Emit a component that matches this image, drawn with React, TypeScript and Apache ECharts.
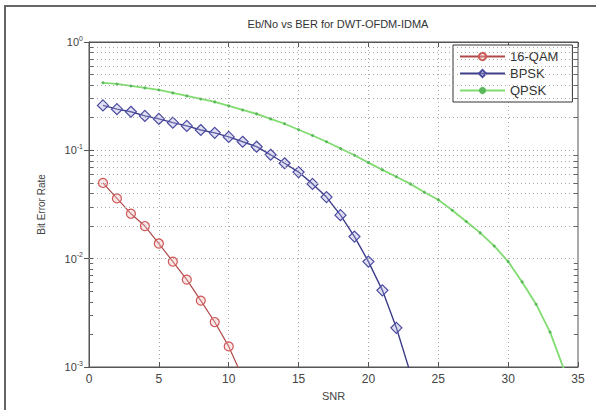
import React, { useEffect, useRef } from "react";
import * as echarts from "echarts";

const qam16X = [1, 2, 3, 4, 5, 6, 7, 8, 9, 10, 11];
const qam16Y = [0.05, 0.036, 0.026, 0.02, 0.0138, 0.0094, 0.0064, 0.0041, 0.0026, 0.00155, 0.0008];
const bpskX = [1, 2, 3, 4, 5, 6, 7, 8, 9, 10, 11, 12, 13, 14, 15, 16, 17, 18, 19, 20, 21, 22, 23];
const bpskY = [0.26, 0.24, 0.227, 0.208, 0.195, 0.18, 0.168, 0.154, 0.145, 0.133, 0.12, 0.108, 0.091, 0.076, 0.063, 0.049, 0.037, 0.0252, 0.016, 0.0094, 0.0051, 0.0023, 0.00088];
const qpskX = [1, 2, 3, 4, 5, 6, 7, 8, 9, 10, 11, 12, 13, 14, 15, 16, 17, 18, 19, 20, 21, 22, 23, 24, 25, 26, 27, 28, 29, 30, 31, 32, 33, 34];
const qpskY = [0.42, 0.41, 0.393, 0.377, 0.361, 0.339, 0.318, 0.298, 0.28, 0.257, 0.236, 0.217, 0.195, 0.176, 0.155, 0.137, 0.12, 0.104, 0.09, 0.077, 0.066, 0.057, 0.049, 0.041, 0.035, 0.028, 0.022, 0.0173, 0.0131, 0.0094, 0.0061, 0.0038, 0.0021, 0.00095];
const decades = [0.001, 0.01, 0.1];
const minorMultipliers = [2, 3, 4, 5, 6, 7, 8, 9];

const pair = (xs: number[], ys: number[]) => xs.map((x, i) => [x, ys[i]]);

export default function App() {
  const ref = useRef<HTMLDivElement>(null);
  useEffect(() => {
    if (!ref.current) return;
    const chart = echarts.init(ref.current, undefined, { renderer: "svg" });
    const font = "Liberation Sans, Arial, sans-serif";
    const minorVals: number[] = [];
    decades.forEach((d) => minorMultipliers.forEach((m) => minorVals.push(+(d * m).toPrecision(3))));
    const gridLine = { type: [1, 3] as any, color: "#a8a8a8", width: 1 };
    const markLines: any[] = [];
    minorVals.forEach((v) => {
      markLines.push({ yAxis: v });
      markLines.push([{ coord: [0, v], lineStyle: { type: "solid", color: "#666" } }, { coord: [0.3, v] }]);
      markLines.push([{ coord: [34.7, v], lineStyle: { type: "solid", color: "#666" } }, { coord: [35, v] }]);
    });
    const labelFmt = (v: number) => "{b|10}{sup|" + Math.round(Math.log10(v)) + "}";
    const option: any = {
      animation: false,
      backgroundColor: "#ffffff",
      textStyle: { fontFamily: font },
      title: {
        text: "Eb/No vs BER for DWT-OFDM-IDMA",
        left: 333,
        textAlign: "center",
        top: 13,
        textStyle: { fontSize: 11, fontWeight: "normal", color: "#333", fontFamily: font },
      },
      grid: { left: 89, right: 18, top: 42, bottom: 43, show: true, borderColor: "#555", borderWidth: 1, backgroundColor: "#fff" },
      legend: {
        orient: "vertical",
        left: 453,
        top: 45,
        padding: [5, 14, 5, 6],
        itemGap: 4,
        itemWidth: 45,
        itemHeight: 9,
        borderColor: "#333",
        borderWidth: 1,
        backgroundColor: "#fff",
        textStyle: { fontSize: 13, color: "#333", fontFamily: font },
        data: ["16-QAM", "BPSK", "QPSK"],
      },
      xAxis: [
        {
          type: "value",
          min: 0,
          max: 35,
          interval: 5,
          name: "SNR",
          nameLocation: "middle",
          nameGap: 23,
          nameTextStyle: { fontSize: 11, color: "#444" },
          axisLine: { show: true, lineStyle: { color: "#555" } },
          axisTick: { inside: true, length: 5, lineStyle: { color: "#555" } },
          axisLabel: { fontSize: 12, color: "#444", margin: 6 },
          splitLine: { show: true, lineStyle: gridLine },
        },
        {
          type: "value",
          position: "top",
          min: 0,
          max: 35,
          interval: 5,
          axisLine: { show: true, lineStyle: { color: "#555" } },
          axisTick: { inside: true, length: 5, lineStyle: { color: "#555" } },
          axisLabel: { show: false },
          splitLine: { show: false },
        },
      ],
      yAxis: [
        {
          type: "log",
          logBase: 10,
          min: 0.001,
          max: 1,
          interval: 1,
          name: "Bit Error Rate",
          nameLocation: "middle",
          nameGap: 43,
          nameTextStyle: { fontSize: 10, color: "#444" },
          axisLine: { show: true, lineStyle: { color: "#555" } },
          axisTick: { inside: true, length: 5, lineStyle: { color: "#555" } },
          axisLabel: {
            margin: 6,
            formatter: labelFmt,
            rich: {
              b: { fontSize: 11, color: "#444", fontFamily: font },
              sup: { fontSize: 7, color: "#444", fontFamily: font, padding: [0, 0, 8, 0] },
            },
          },
          splitLine: { show: true, lineStyle: gridLine },
        },
        {
          type: "log",
          logBase: 10,
          min: 0.001,
          max: 1,
          interval: 1,
          position: "right",
          axisLine: { show: true, lineStyle: { color: "#555" } },
          axisTick: { inside: true, length: 5, lineStyle: { color: "#555" } },
          axisLabel: { show: false },
          splitLine: { show: false },
        },
      ],
      graphic: [
        { type: "line", shape: { x1: 5, y1: 6, x2: 5, y2: 410 }, style: { stroke: "#666", lineWidth: 2 } },
        { type: "line", shape: { x1: 4, y1: 6, x2: 596, y2: 6 }, style: { stroke: "#666", lineWidth: 2 } },
      ],
      series: [
        {
          name: "minor",
          type: "line",
          data: [],
          silent: true,
          markLine: {
            silent: true,
            symbol: ["none", "none"],
            label: { show: false },
            lineStyle: gridLine,
            data: markLines,
          },
        },
        {
          name: "16-QAM",
          type: "line",
          data: pair(qam16X, qam16Y),
          symbol: "circle",
          symbolSize: 9,
          itemStyle: { color: "rgba(240,190,190,0.35)", borderColor: "#d05656", borderWidth: 1.2 },
          lineStyle: { color: "#b04a4a", width: 1.2 },
          clip: true,
        },
        {
          name: "BPSK",
          type: "line",
          data: pair(bpskX, bpskY),
          symbol: "diamond",
          symbolSize: 11,
          itemStyle: { color: "rgba(170,170,220,0.35)", borderColor: "#4a4aa0", borderWidth: 1.2 },
          lineStyle: { color: "#3d3d8a", width: 1.4 },
          clip: true,
        },
        {
          name: "QPSK",
          type: "line",
          data: pair(qpskX, qpskY),
          symbol: "circle",
          symbolSize: 3,
          itemStyle: { color: "#5cb85c" },
          lineStyle: { color: "#80dc70", width: 1.8 },
          clip: true,
        },
      ],
    };
    chart.setOption(option);
    return () => chart.dispose();
  }, []);
  return <div ref={ref} style={{ position: "fixed", left: 0, top: 0, width: 596, height: 410 }} />;
}
